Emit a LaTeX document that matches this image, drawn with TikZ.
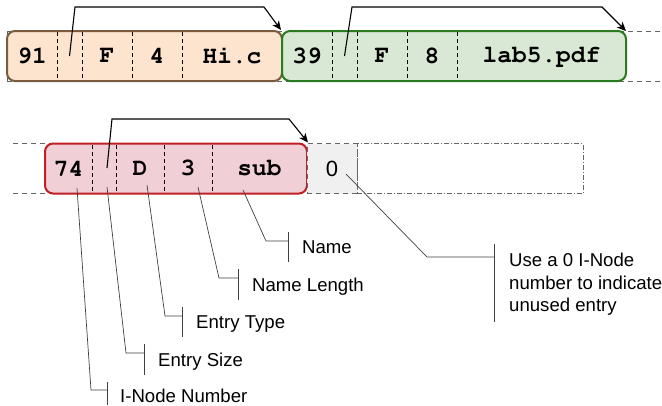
\documentclass[tikz,border=0pt]{standalone}
\usepackage[T1]{fontenc}
\usepackage{fontspec}
\setmainfont{Liberation Sans}
\usetikzlibrary{arrows.meta}
\definecolor{ofill}{HTML}{FCE4CF}
\definecolor{oline}{HTML}{7A5C3C}
\definecolor{gfill}{HTML}{D8E8D4}
\definecolor{gline}{HTML}{2A7A1F}
\definecolor{rfill}{HTML}{F0D0D6}
\definecolor{rline}{HTML}{C01F24}
\definecolor{zfill}{HTML}{F0F0F0}
\newcommand{\courb}{\fontencoding{T1}\fontfamily{pcr}\fontseries{b}\fontshape{n}\fontsize{24.5}{26}\selectfont}
\tikzset{
  box/.style={rectangle, rounded corners=8pt, line width=2pt, inner sep=0pt, minimum height=50pt},
  div/.style={black, line width=0.9pt, dash pattern=on 4pt off 3pt},
  rowline/.style={gray!80!black, line width=0.9pt, dash pattern=on 5pt off 4pt},
  mono/.style={inner sep=0pt, font=\courb},
  link/.style={black, line width=1.1pt, -{Stealth[length=9pt,width=8pt,inset=2.5pt]}},
  lbl/.style={black!75, line width=0.7pt},
  lbltext/.style={anchor=base west, inner sep=0pt, font=\fontsize{18.6}{22.5}\selectfont, align=left},
}
\begin{document}
\begin{tikzpicture}[x=1pt,y=-1pt]
\useasboundingbox (0,0) rectangle (662,405);
% ---- top row ----
\draw[rowline] (7,31) -- (662,31);
\draw[rowline] (7,81) -- (662,81);
\draw[rowline] (7,31) -- (7,81);
\node[box, fill=ofill, draw=oline, minimum width=275pt] (orange) at (144.5,56) {};
\node[box, fill=gfill, draw=gline, minimum width=344pt] (green) at (454,56) {};
\foreach \x in {57,82,132,182,332,357,407,457}
  \draw[div] (\x,32) -- (\x,80);
\node[mono] (t91) at (32,56) {91};
\coordinate (o1) at (69.5,56);
\node[mono] (tF1) at (107,56) {F};
\node[mono] (t4) at (157,56) {4};
\node[mono] (tHi) at (232,56) {Hi.c};
\node[mono] (t39) at (307,56) {39};
\coordinate (g1) at (344.5,56);
\node[mono] (tF2) at (382,56) {F};
\node[mono] (t8) at (432,56) {8};
\node[mono] (tlab) at (541.5,56) {lab5.pdf};
\draw[link] (o1) -- (75,7) -- (264,7) -- (green.north west);
\draw[link] (g1) -- (352,7) -- (602,7) -- (626,31);
% ---- bottom row ----
\draw[rowline] (13,143.5) -- (45,143.5);
\draw[rowline] (13,193.5) -- (45,193.5);
\node[box, fill=rfill, draw=rline, minimum width=262pt] (red) at (176,168.5) {};
\foreach \x in {92,116,164,212}
  \draw[div] (\x,144.5) -- (\x,192.5);
\node[rectangle, fill=zfill, draw=gray!80!black, line width=0.9pt, dash pattern=on 5pt off 4pt, minimum width=50pt, minimum height=50pt, inner sep=0pt] (zero) at (332,168.5) {};
\node[font=\fontsize{22}{24}\selectfont, inner sep=0pt] (t0) at (332,169) {0};
\node[rectangle, draw=gray!80!black, line width=0.9pt, dash pattern=on 5pt off 2pt on 1pt off 2pt, minimum width=226pt, minimum height=50pt, inner sep=0pt] (empty) at (470,168.5) {};
\node[mono] (t74) at (68.5,168.5) {74};
\coordinate (r1) at (107,168);
\node[mono] (tD) at (140,168.5) {D};
\node[mono] (t3) at (188,168.5) {3};
\node[mono] (tsub) at (259.5,168.5) {sub};
\draw[link] (r1) -- (112,119) -- (289,119) -- (red.north east);
% ---- callouts ----
\node[lbltext] (lName) at (302,253) {Name};
\draw[lbl] (243,190) -- (266,241) -- (288,241);
\draw[lbl] (288,232) -- (288,262);
\node[lbltext] (lNL) at (252,291) {Name Length};
\draw[lbl] (198,187) -- (219,278) -- (238,278);
\draw[lbl] (238,269) -- (238,300);
\node[lbltext] (lET) at (196,328.5) {Entry Type};
\draw[lbl] (147,185) -- (165,316) -- (182,316);
\draw[lbl] (182,307) -- (182,337);
\node[lbltext] (lES) at (158,366) {Entry Size};
\draw[lbl] (107,187) -- (126,353) -- (144,353);
\draw[lbl] (144,344) -- (144,375);
\node[lbltext] (lIN) at (120,402) {I-Node Number};
\draw[lbl] (77,188) -- (91,390) -- (107,390);
\draw[lbl] (107,382) -- (107,405);
\node[lbltext] (lU) at (509,311.5) {Use a 0 I-Node\\number to indicate\\unused entry};
\draw[lbl] (346,174) -- (427,257) -- (494,257);
\draw[lbl] (494,244) -- (494,322);
\end{tikzpicture}
\end{document}
